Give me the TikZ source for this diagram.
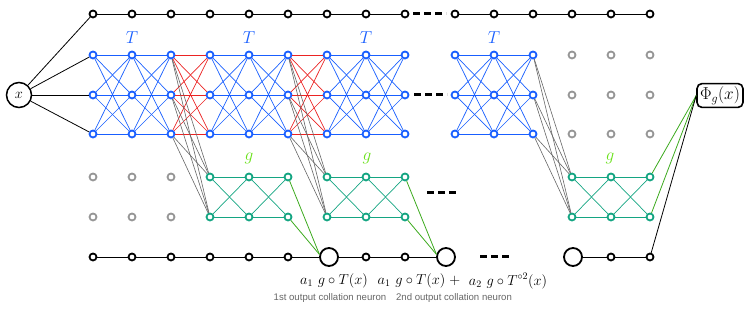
\documentclass[tikz,border=0pt]{standalone}
\usepackage{fontspec}
\newfontfamily\notefont{Liberation Sans}
\usepackage{amsmath, amssymb}

\definecolor{tblue}{RGB}{25,95,255}
\definecolor{tred}{RGB}{235,35,35}
\definecolor{gteal}{RGB}{20,165,130}
\definecolor{glime}{RGB}{105,225,25}
\definecolor{ggreen}{RGB}{60,170,30}
\definecolor{idle}{RGB}{150,150,150}

\begin{document}
\begin{tikzpicture}[x=1pt,y=-1pt,
    neuron/.style={circle,draw,line width=1.8pt,fill=white,inner sep=0pt,minimum size=7pt},
    collator/.style={circle,draw,line width=1.8pt,fill=white,inner sep=0pt,minimum size=18pt},
    inp/.style={circle,draw,line width=1.5pt,inner sep=0pt,minimum size=25pt,font=\Large},
    outbox/.style={draw,rounded corners=5pt,line width=1.6pt,inner sep=3pt,font=\LARGE},
    link/.style={line width=0.8pt},
    ellip/.style={line width=3pt,dash pattern=on 7pt off 4pt},
    lbl/.style={font=\Large},
    head/.style={font=\LARGE},
    note/.style={font=\fontsize{9.6}{11}\notefont,text=black!60}]
      \useasboundingbox (0,0) rectangle (748,312);

      % input and output
      \node[inp] (x) at (19,95) {$x$};
      \node[outbox] (phi) at (720,95.5) {$\Phi_g(x)$};

      % top row
      \foreach \c/\xx in {0/93,1/132,2/171,3/210,4/249,5/288,6/327,7/366,8/405,
                          9/455,10/494,11/533,12/572,13/611,14/650}
        \node[neuron] (top\c) at (\xx,14) {};

      % T layers
      \foreach \c/\xx in {0/93,1/132,2/171,3/210,4/249,5/288,6/327,7/366,8/405,
                          9/455,10/494,11/533}
        \foreach \r/\yy in {1/55,2/95,3/134}
          \node[neuron,draw=tblue] (t\c-\r) at (\xx,\yy) {};
      \foreach \c/\xx in {12/572,13/611,14/650}
        \foreach \r/\yy in {1/55,2/95,3/134}
          \node[neuron,draw=idle] (t\c-\r) at (\xx,\yy) {};

      % g layers
      \foreach \c/\xx in {3/210,4/249,5/288,6/327,7/366,8/405,12/572,13/611,14/650}
        \foreach \r/\yy in {1/177,2/217}
          \node[neuron,draw=gteal] (g\c-\r) at (\xx,\yy) {};
      \foreach \c/\xx in {0/93,1/132,2/171}
        \foreach \r/\yy in {1/177,2/217}
          \node[neuron,draw=idle] (g\c-\r) at (\xx,\yy) {};

      % bottom row
      \foreach \c/\xx in {0/93,1/132,2/171,3/210,4/249,5/288,7/366,8/405,13/611,14/650}
        \node[neuron] (b\c) at (\xx,257) {};
      \node[collator] (b6) at (329,257) {};
      \node[collator] (b9) at (446,257) {};
      \node[collator] (b12) at (573,257) {};

      % labels
      \foreach \c/\xx in {1/132,4/249,7/366,10/494}
        \node[head,text=tblue] (tl\c) at (\xx,38) {$T$};
      \foreach \c/\xx in {4/249,7/367,13/610}
        \node[head,text=glime] (gl\c) at (\xx,158) {$g$};
      \node[lbl] (l1) at (334,281) {$a_1\ g\circ T(x)$};
      \node[lbl] (l2) at (419,281) {$a_1\ g\circ T(x)\;+$};
      \node[lbl] (l3) at (508,281) {$a_2\ g\circ T^{\circ 2}(x)$};
      \node[note] (n1) at (330,298) {1st output collation neuron};
      \node[note] (n2) at (454,298) {2nd output collation neuron};

      % connections
      \draw[link] (x) -- (top0);
      \foreach \r in {1,2,3} \draw[link] (x) -- (t0-\r);
      \foreach \a/\b in {0/1,1/2,2/3,3/4,4/5,5/6,6/7,7/8,9/10,10/11,11/12,12/13,13/14}
        \draw[link] (top\a) -- (top\b);
      \foreach \a/\b in {0/1,1/2,2/3,3/4,4/5,5/6,6/7,7/8,8/9,12/13,13/14}
        \draw[link] (b\a) -- (b\b);
      \foreach \a/\b in {0/1,1/2,3/4,4/5,6/7,7/8,9/10,10/11}
        \foreach \r in {1,2,3} \foreach \s in {1,2,3}
          \draw[tblue,line width=0.7pt] (t\a-\r) -- (t\b-\s);
      \foreach \a/\b in {2/3,5/6}
        \foreach \r in {1,2,3} \foreach \s in {1,2,3}
          \draw[tred,line width=0.7pt] (t\a-\r) -- (t\b-\s);
      \foreach \a/\b in {2/3,5/6,11/12}
        \foreach \r in {1,2,3} \foreach \s in {1,2}
          \draw[black!60,line width=0.6pt] (t\a-\r) -- (g\b-\s);
      \foreach \a/\b in {3/4,4/5,6/7,7/8,12/13,13/14}
        \foreach \r in {1,2} \foreach \s in {1,2}
          \draw[gteal,line width=0.7pt] (g\a-\r) -- (g\b-\s);
      \foreach \a/\b in {5/6,8/9}
        \foreach \r in {1,2} \draw[ggreen,line width=0.8pt] (g\a-\r) -- (b\b.165);
      \foreach \r in {1,2} \draw[ggreen,line width=0.8pt] (g14-\r) -- (phi.west);
      \draw[link] (b14) -- (phi.west);

      % dots
      \draw[ellip] (413,14) -- (446,14);
      \draw[ellip] (414,95) -- (447,95);
      \draw[ellip] (427,193) -- (456,193);
      \draw[ellip] (480,257) -- (509,257);
\end{tikzpicture}
\end{document}
